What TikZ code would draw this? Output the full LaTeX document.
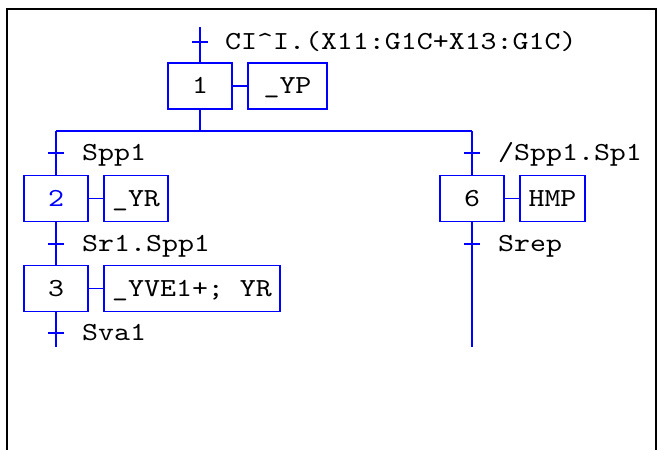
\documentclass[tikz,border=0pt]{standalone}
\usepackage{fontspec}
\setmonofont[FakeStretch=1.17]{lmmono10-regular.otf}
\begin{document}
\begin{tikzpicture}[x=1pt,y=-1pt,
  every node/.style={font=\ttfamily\fontsize{26}{26}\selectfont, text height=15pt, text depth=0pt, inner sep=0pt},
  stepbox/.style={draw=blue, line width=1.8pt, minimum width=64pt, minimum height=46pt},
  actbox/.style={draw=blue, line width=1.8pt, minimum height=46pt},
  link/.style={draw=blue, line width=1.8pt},
  lbl/.style={anchor=west}
]
\useasboundingbox (0,0) rectangle (659,450);
\draw[line width=2pt] (6.5,450) -- (6.5,9) -- (656,9) -- (656,450);

% nodes
\node[stepbox] (s1) at (200,86) {1};
\node[actbox, minimum width=79pt] (a1) at (287.5,86) {\_YP};
\node[stepbox, text=blue] (s2) at (56,198.5) {2};
\node[actbox, minimum width=64pt] (a2) at (136,198.5) {\_YR};
\node[stepbox] (s3) at (56,288.5) {3};
\node[actbox, minimum width=176pt] (a3) at (192,288.5) {\_YVE1+; YR};
\node[stepbox] (s6) at (472,198.5) {6};
\node[actbox, minimum width=65pt] (a6) at (552.5,198.5) {HMP};

% coordinates
\coordinate (top) at (200,27);
\coordinate (t0) at (200,42);
\coordinate (bar) at (200,131);
\coordinate (barL) at (56,131);
\coordinate (barR) at (472,131);
\coordinate (t2) at (56,153);
\coordinate (t3) at (56,244);
\coordinate (t4) at (56,333);
\coordinate (endL) at (56,347);
\coordinate (t6) at (472,153);
\coordinate (t7) at (472,244);
\coordinate (endR) at (472,347);

% connectors
\draw[link] (top) -- (s1.north);
\draw[link] (s1.south) -- (bar);
\draw[link] (barL) -- (barR);
\draw[link] (barL) -- (s2.north);
\draw[link] (s2.south) -- (s3.north);
\draw[link] (s3.south) -- (endL);
\draw[link] (barR) -- (s6.north);
\draw[link] (s6.south) -- (endR);
\draw[link] (s1.east) -- (a1.west);
\draw[link] (s2.east) -- (a2.west);
\draw[link] (s3.east) -- (a3.west);
\draw[link] (s6.east) -- (a6.west);

% transition ticks
\foreach \t in {t0,t2,t3,t4,t6,t7}
  \draw[link] ([xshift=-8pt]\t) -- ([xshift=8pt]\t);

% transition labels
\node[lbl] (l0) at ([xshift=25pt]t0) {CI\textasciicircum I.(X11:G1C+X13:G1C)};
\node[lbl] (l2) at ([xshift=26pt]t2) {Spp1};
\node[lbl] (l3) at ([xshift=26pt]t3) {Sr1.Spp1};
\node[lbl] (l4) at ([xshift=26pt]t4) {Sva1};
\node[lbl] (l6) at ([xshift=26pt]t6) {/Spp1.Sp1};
\node[lbl] (l7) at ([xshift=26pt]t7) {Srep};
\end{tikzpicture}
\end{document}
